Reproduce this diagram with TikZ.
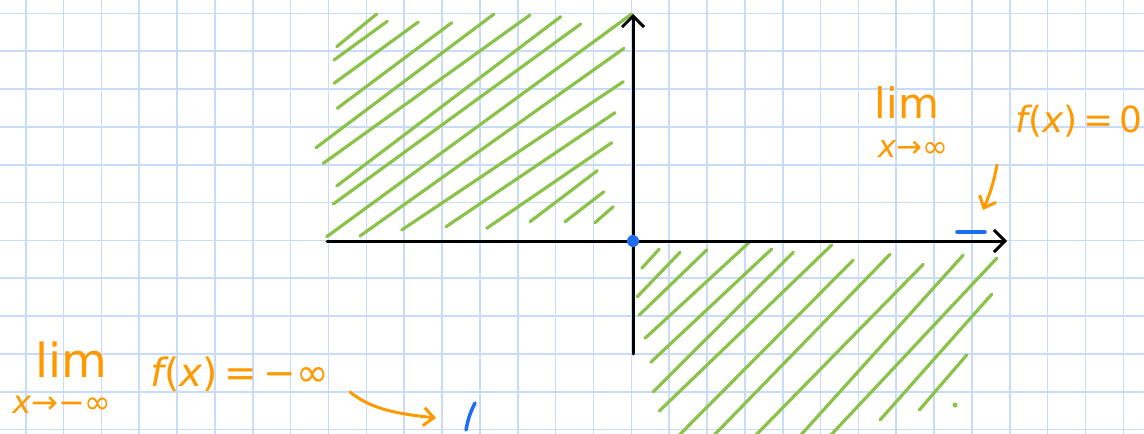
\documentclass[tikz,border=0pt]{standalone}
\usepackage{fontspec}
\newfontfamily\hand{DejaVu Sans}
\usetikzlibrary{arrows.meta}
\definecolor{gridblue}{RGB}{200,220,250}
\definecolor{hatch}{RGB}{139,195,74}
\definecolor{penblue}{RGB}{30,110,245}
\definecolor{penorange}{RGB}{255,153,0}
\tikzset{
  gridline/.style={draw=gridblue,line width=1.6pt},
  hatchline/.style={draw=hatch,line width=3.2pt,line cap=round},
  axisline/.style={draw=black,line width=3pt,line cap=round,-{Straight Barb[length=11pt,width=22pt,line width=3pt]}},
  penarrow/.style={draw=penorange,line width=3pt,line cap=round,-{Straight Barb[length=10pt,width=18pt,line width=3pt]}},
  blueline/.style={draw=penblue,line width=3.5pt,line cap=round},
  lbl/.style={text=penorange,inner sep=0pt},
}
\begin{document}
\begin{tikzpicture}[x=1pt,y=-1pt]
\useasboundingbox (0,0) rectangle (1144,434);
\fill[white] (0,0) rectangle (1144,434);
% grid
\foreach \i in {0,...,29} \draw[gridline] ({25.7+37.85*\i},0) -- ({25.7+37.85*\i},434);
\foreach \j in {0,...,11} \draw[gridline] (0,{13.3+37.85*\j}) -- (1144,{13.3+37.85*\j});
% hatching upper-left
\foreach \a/\b/\c/\d in {336.7/46.7/376.7/14, 334/60/387.3/21.3, 334/83.3/418.3/22, 337.3/108.3/451.7/22.7,
  316/147.7/494/14, 323.3/163.3/530/15, 336.7/186/560.7/16.7, 333.3/204/580.7/24, 326.7/236.7/631.7/14,
  360/236/624/48.3, 401.7/230/623.3/81.7, 446/226.7/615/112.7, 486.7/228.3/611.7/142.7, 530/221.7/597.3/170.7,
  565/221.7/604/191.7, 595/222.7/613.3/206.7}
  \draw[hatchline] (\a,\b) -- (\c,\d);
% hatching lower-right
\foreach \a/\b/\c/\d in {641.7/268.3/659.3/249, 637.3/296.7/680/252.3, 639.3/315/706.7/250, 645/338.3/749.3/242.3,
  650.7/362.3/771.7/249, 653.3/391.7/793.3/252.3, 659.3/411/831.7/245, 678.3/436/853.3/260, 713.3/436/890/254.3,
  755/436/923.3/264.3, 800/436/963.3/255, 830/436/996.7/258.3, 880/420/991.7/294.3, 919.3/410/966.7/355}
  \draw[hatchline] (\a,\b) -- (\c,\d);
\fill[hatch] (955,405) circle (2.5);
% axes
\coordinate (xs) at (327,241);
\coordinate (xe) at (1007,241);
\coordinate (ys) at (633,354);
\coordinate (ye) at (633,14);
\draw[axisline] (xs) -- (xe);
\draw[axisline] (ys) -- (ye);
\node[circle,fill=penblue,inner sep=0pt,minimum size=12pt] (o) at (633,241) {};
% blue marks
\coordinate (b1) at (957,232);
\coordinate (b2) at (985,232);
\draw[blueline] (b1) -- (b2);
\coordinate (c1) at (475,403);
\coordinate (c2) at (466,430);
\draw[blueline] (c1) to[bend right=8] (c2);
% labels top right
\node[lbl,font=\hand\fontsize{42}{42}\selectfont] (lim1) at (907,103) {lim};
\node[lbl,font=\hand\fontsize{31}{31}\selectfont] (sub1) at (913,149) {\itshape x\upshape→∞};
\node[lbl,font=\hand\fontsize{36}{36}\selectfont] (f1) at (1079,121) {\itshape f\upshape(\itshape x\upshape)\,=\,0};
% labels bottom left
\node[lbl,font=\hand\fontsize{47}{47}\selectfont] (lim2) at (71,360) {lim};
\node[lbl,font=\hand\fontsize{32}{32}\selectfont] (sub2) at (62,405) {\itshape x\upshape→−∞};
\node[lbl,font=\hand\fontsize{39}{39}\selectfont] (f2) at (240,374) {\itshape f\upshape(\itshape x\upshape)\,=\,−∞};
% orange arrows
\coordinate (a1s) at (997,165);
\coordinate (a1e) at (983,210);
\draw[penarrow] (a1s) to[bend left=6] (a1e);
\coordinate (a2s) at (350,392);
\coordinate (a2e) at (436,418);
\draw[penarrow] (a2s) .. controls (372,410) and (400,414) .. (a2e);
\end{tikzpicture}
\end{document}
